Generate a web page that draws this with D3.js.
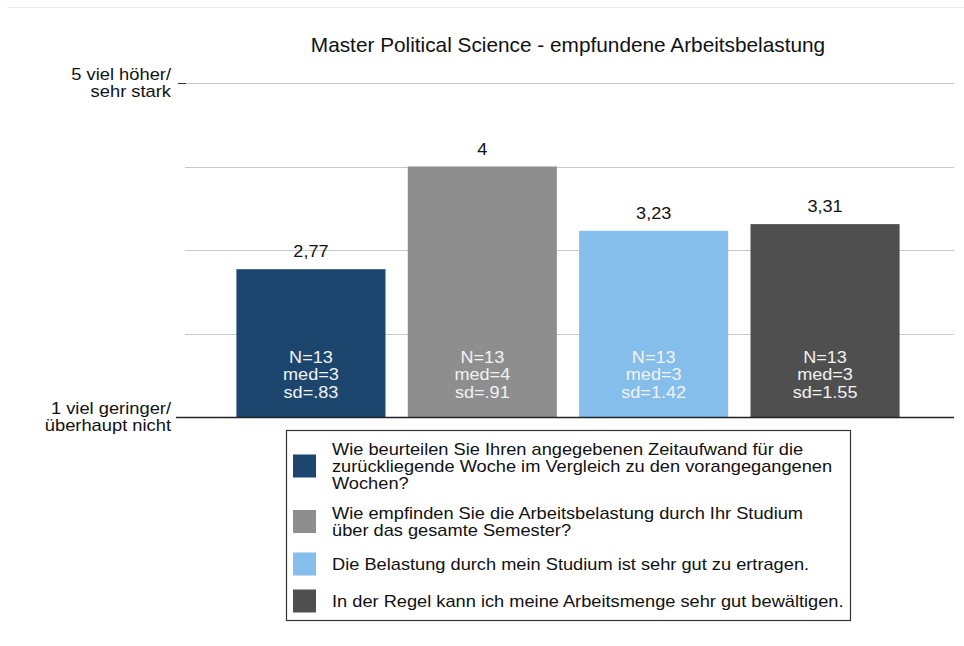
<!DOCTYPE html>
<html>
<head>
<meta charset="utf-8">
<script src="https://cdn.jsdelivr.net/npm/d3@7"></script>
<style>
  body { margin: 0; background: #fff; }
  text { font-family: "Liberation Sans", Arial, sans-serif; }
</style>
</head>
<body>
<div id="canvas"></div>
<script>
var questions = [
  "Wie beurteilen Sie Ihren angegebenen Zeitaufwand für die|zurückliegende Woche im Vergleich zu den vorangegangenen|Wochen?",
  "Wie empfinden Sie die Arbeitsbelastung durch Ihr Studium|über das gesamte Semester?",
  "Die Belastung durch mein Studium ist sehr gut zu ertragen.",
  "In der Regel kann ich meine Arbeitsmenge sehr gut bewältigen."
];
var means = [2.77, 4, 3.23, 3.31];
var meanLabels = ["2,77", "4", "3,23", "3,31"];
var counts = [13, 13, 13, 13];
var medians = [3, 4, 3, 3];
var sds = [".83", ".91", "1.42", "1.55"];
var colors = ["#1c466e", "#8e8e8e", "#85beea", "#4f4f4f"];
var yTicks = [1, 2, 3, 4, 5];
var yTickLabels = { 5: ["5 viel höher/", "sehr stark"], 1: ["1 viel geringer/", "überhaupt nicht"] };

// text in the original is slightly wider than the local Arial metric, so it gets a sideways stretch
function addText(parent, x, y, anchor, lines, size, fill, lineHeight, stretch) {
  var g = parent.append("g").attr("transform", `translate(${x},${y}) scale(${stretch || 1},1)`);
  var t = g.append("text")
    .attr("text-anchor", anchor)
    .style("font-size", size + "px")
    .attr("fill", fill);
  lines.forEach((l, i) => {
    t.append("tspan").attr("x", 0).attr("y", i * (lineHeight || 0)).text(l);
  });
  return g;
}

var svg = d3.select("#canvas").append("svg").attr("width", 964).attr("height", 646);

// faint top rule
svg.append("line").attr("x1", 7).attr("x2", 964).attr("y1", 7.5).attr("y2", 7.5)
  .attr("stroke", "#e8ecec").attr("stroke-width", 1);

addText(svg, 568, 52, "middle", ["Master Political Science - empfundene Arbeitsbelastung"], 20.5, "#111", 0, 1.015);

var x = d3.scaleBand().domain(d3.range(means.length)).range([185, 951])
  .paddingInner(0.13).paddingOuter(0.3);
var y = d3.scaleLinear().domain([1, 5]).range([417, 83]);

// gridlines
svg.selectAll("line.grid")
  .data(yTicks.filter(d => d > 1))
  .enter().append("line")
  .attr("class", "grid")
  .attr("x1", 185).attr("x2", 954)
  .attr("y1", d => Math.round(y(d)) + 0.5).attr("y2", d => Math.round(y(d)) + 0.5)
  .attr("stroke", "#c8c8c8").attr("stroke-width", 1.2);

// tick dash at top
svg.append("line").attr("x1", 178).attr("x2", 186)
  .attr("y1", Math.round(y(5)) + 0.5).attr("y2", Math.round(y(5)) + 0.5)
  .attr("stroke", "#333");

// y labels
Object.keys(yTickLabels).forEach(k => {
  addText(svg, 171, y(+k) - 3, "end", yTickLabels[k], 16, "#111", 17, 1.145);
});

// bars
svg.selectAll("rect.bar")
  .data(means)
  .enter().append("rect")
  .attr("class", "bar")
  .attr("x", (d, i) => x(i))
  .attr("width", x.bandwidth())
  .attr("y", d => y(d))
  .attr("height", d => y(1) - y(d))
  .attr("fill", (d, i) => colors[i]);

// value labels and stats inside bars
means.forEach((d, i) => {
  var cx = x(i) + x.bandwidth() / 2;
  addText(svg, cx, y(d) - 12, "middle", [meanLabels[i]], 16, "#111", 0, 1.13);
  addText(svg, cx, 363, "middle",
    ["N=" + counts[i], "med=" + medians[i], "sd=" + sds[i]], 16, "#f2f2f2", 17.5, 1.13);
});

// baseline
svg.append("line").attr("x1", 176).attr("x2", 954)
  .attr("y1", y(1) + 0.5).attr("y2", y(1) + 0.5)
  .attr("stroke", "#222").attr("stroke-width", 1.3);

// legend
var legend = svg.append("g");
legend.append("rect")
  .attr("x", 286.5).attr("y", 430.5).attr("width", 564).attr("height", 190)
  .attr("fill", "#fff").attr("stroke", "#333").attr("stroke-width", 1.2);

var itemTop = [441, 505, 556, 593];
questions.forEach((q, i) => {
  var lines = q.split("|");
  var h = lines.length * 17;
  legend.append("rect")
    .attr("x", 293).attr("y", itemTop[i] + h / 2 - 12)
    .attr("width", 23).attr("height", 23)
    .attr("fill", colors[i]);
  addText(legend, 332, itemTop[i] + 14, "start", lines, 16, "#111", 17, 1.14);
});
</script>
</body>
</html>
